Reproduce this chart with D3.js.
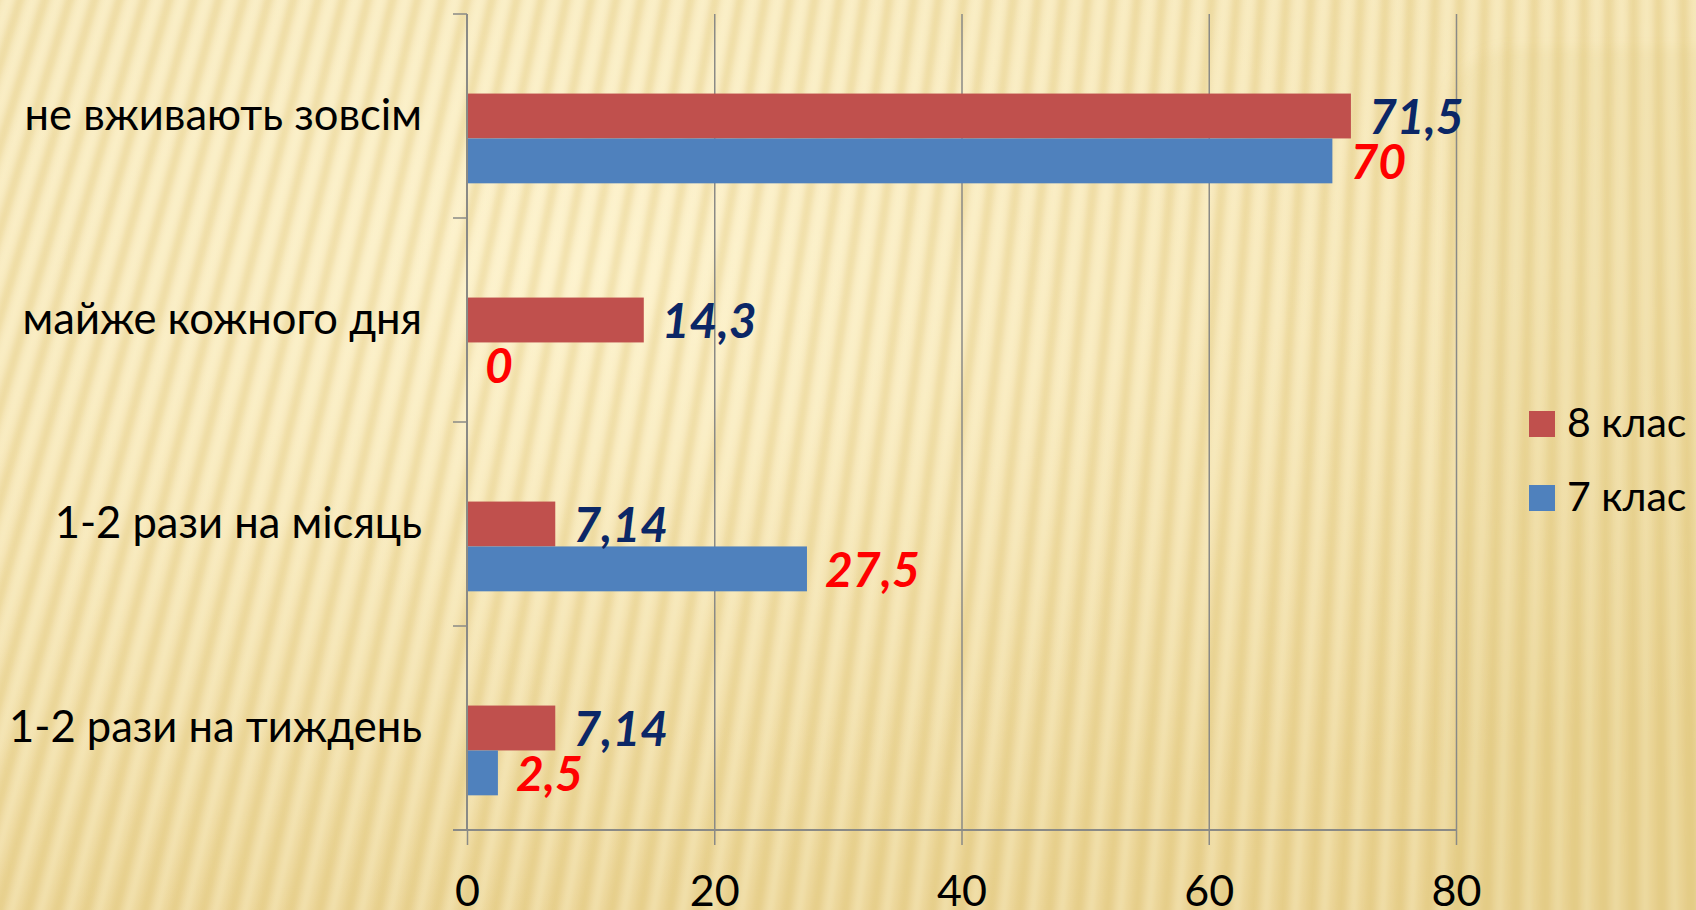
<!DOCTYPE html>
<html><head><meta charset="utf-8">
<script src="https://cdn.jsdelivr.net/npm/d3@7/dist/d3.min.js"></script>
<style>html,body{margin:0;padding:0;background:#FAEDC3;overflow:hidden}</style>
</head><body><svg id="c" width="1696" height="910"></svg>
<script>
// ---- data ----
const categories = ["не вживають зовсім", "майже кожного дня", "1-2 рази на місяць", "1-2 рази на тиждень"];
const seriesNames = ["8 клас", "7 клас"];
const values8 = [71.5, 14.3, 7.14, 7.14];
const values7 = [70, 0, 27.5, 2.5];
const xTicks = [0, 20, 40, 60, 80];
const xDomain = [0, 80];

// ---- styles ----
const seriesColors = ["#C0504D", "#4F81BD"];
const labelColors = ["#0B2766", "#FF0000"];
const axisColor = "#8A8A86";
const FONT = "Lato, 'Open Sans', sans-serif";

const W = 1696, H = 910;
const svg = d3.select("#c");
const locale = d3.formatLocale({decimal: ",", thousands: " ", grouping: [3], currency: ["", ""]});
const fmt = locale.format("~g");

// ---- background (decorative) ----
const defs = svg.append("defs");
const bg = defs.append("linearGradient").attr("id", "bg").attr("x1", 0).attr("y1", 0).attr("x2", 0.35).attr("y2", 1);
bg.append("stop").attr("offset", 0).attr("stop-color", "#FCF1C9");
bg.append("stop").attr("offset", 0.55).attr("stop-color", "#F9EABB");
bg.append("stop").attr("offset", 1).attr("stop-color", "#EED99C");
const rg = defs.append("radialGradient").attr("id", "rg").attr("cx", 0.35).attr("cy", 0.3).attr("r", 0.85);
rg.append("stop").attr("offset", 0).attr("stop-color", "#FFF6D6").attr("stop-opacity", 0.5);
rg.append("stop").attr("offset", 1).attr("stop-color", "#E3C985").attr("stop-opacity", 0.35);
defs.append("filter").attr("id", "blur").attr("x", "-10%").attr("y", "-10%").attr("width", "120%").attr("height", "120%")
  .append("feGaussianBlur").attr("stdDeviation", 3.2);
defs.append("filter").attr("id", "blurBig").append("feGaussianBlur").attr("stdDeviation", 6);

svg.append("rect").attr("width", W).attr("height", H).attr("fill", "url(#bg)");
svg.append("rect").attr("width", W).attr("height", H).attr("fill", "url(#rg)");

const V = [1640, -5200];
const stripes = svg.append("g").attr("filter", "url(#blur)");
d3.range(-500, 1900, 27).forEach(xs => {
  const ym = 455;
  const t = (y) => xs + (V[0] - xs) * (y - ym) / (V[1] - ym);
  stripes.append("line").attr("x1", t(-30)).attr("y1", -30).attr("x2", t(H + 30)).attr("y2", H + 30)
    .attr("stroke", "#D9BC6A").attr("stroke-opacity", 0.34).attr("stroke-width", 8);
  stripes.append("line").attr("x1", t(-30) + 13).attr("y1", -30).attr("x2", t(H + 30) + 13).attr("y2", H + 30)
    .attr("stroke", "#FFF8DC").attr("stroke-opacity", 0.35).attr("stroke-width", 6);
});
svg.append("rect").attr("x", 1445).attr("y", 48).attr("width", 400).attr("height", 1000).attr("rx", 70)
  .attr("fill", "#D8BE74").attr("fill-opacity", 0.13).attr("filter", "url(#blurBig)");

// ---- scales ----
const plot = {left: 467, right: 1456, top: 14, bottom: 830};
const x = d3.scaleLinear().domain(xDomain).range([plot.left, plot.right]);
const y = d3.scaleBand().domain(categories).range([plot.top, plot.bottom]).padding(0);
const bw = y.bandwidth();
// original chart reserves an empty first slot in each group
const slots = ["", ...seriesNames];
const ySub = d3.scaleBand().domain(slots).range([bw * 0.17, bw * 0.83]).padding(0);

// ---- gridlines ----
svg.append("g").attr("transform", `translate(0,${plot.top})`)
  .call(d3.axisBottom(x).tickValues(xTicks.filter(d => d !== 0)).tickSize(plot.bottom - plot.top).tickFormat(""))
  .call(g => g.select(".domain").remove())
  .call(g => g.selectAll("line").attr("stroke", axisColor).attr("stroke-width", 1.5));

// ---- bars ----
const seriesData = [values8, values7];
seriesData.forEach((vals, si) => {
  svg.append("g").selectAll("rect").data(vals).join("rect")
    .attr("x", x(0))
    .attr("y", (d, i) => y(categories[i]) + ySub(seriesNames[si]))
    .attr("width", d => x(d) - x(0))
    .attr("height", ySub.bandwidth())
    .attr("fill", seriesColors[si]);
});

// ---- value axis ----
const xAxis = svg.append("g").attr("transform", `translate(0,${plot.bottom})`)
  .call(d3.axisBottom(x).tickValues(xTicks).tickSize(15).tickSizeOuter(0).tickFormat(d3.format("d")));
xAxis.select(".domain").attr("stroke", axisColor).attr("stroke-width", 2).attr("d", `M${plot.left - 14},0H${plot.right}`);
xAxis.selectAll(".tick line").attr("stroke", axisColor).attr("stroke-width", 1.5);
xAxis.selectAll(".tick text").attr("y", 76).attr("dy", null).attr("fill", "#000")
  .style("font-family", FONT).style("font-size", "43px");

// ---- category axis ----
const catAxis = svg.append("g");
catAxis.append("line").attr("x1", plot.left).attr("x2", plot.left).attr("y1", plot.top).attr("y2", plot.bottom)
  .attr("stroke", axisColor).attr("stroke-width", 2);
const bounds = categories.map(c => y(c)).concat([plot.bottom]);
catAxis.selectAll(".ct").data(bounds).join("line")
  .attr("x1", plot.left - 14).attr("x2", plot.left).attr("y1", d => d).attr("y2", d => d)
  .attr("stroke", axisColor).attr("stroke-width", 1.5);
const catLabels = catAxis.selectAll(".cl").data(categories).join("text")
  .attr("x", 422).attr("y", d => y(d) + bw / 2 + 14)
  .attr("text-anchor", "end").attr("fill", "#000")
  .style("font-family", FONT).style("font-size", "46px").text(d => d);
// fit to the reference label width
let maxW = d3.max(catLabels.nodes(), n => n.getComputedTextLength());
catLabels.style("font-size", (46 * 413 / maxW) + "px");

// ---- data labels ----
seriesData.forEach((vals, si) => {
  svg.append("g").selectAll("text").data(vals).join("text")
    .attr("x", d => x(d) + 18)
    .attr("y", (d, i) => y(categories[i]) + ySub(seriesNames[si]) + ySub.bandwidth() / 2 + 18)
    .attr("fill", labelColors[si])
    .style("font-family", FONT).style("font-weight", "bold").style("font-style", "italic").style("font-size", "48px")
    .text(d => fmt(d));
});

// ---- legend ----
const legend = svg.append("g").attr("transform", "translate(1529,411)");
seriesNames.forEach((s, i) => {
  const g = legend.append("g").attr("transform", `translate(0,${i * 74})`);
  g.append("rect").attr("width", 26).attr("height", 26).attr("fill", seriesColors[i]);
  g.append("text").attr("x", 38).attr("y", 26).attr("fill", "#000")
    .style("font-family", FONT).style("font-size", "41px").text(s);
});
</script></body></html>
